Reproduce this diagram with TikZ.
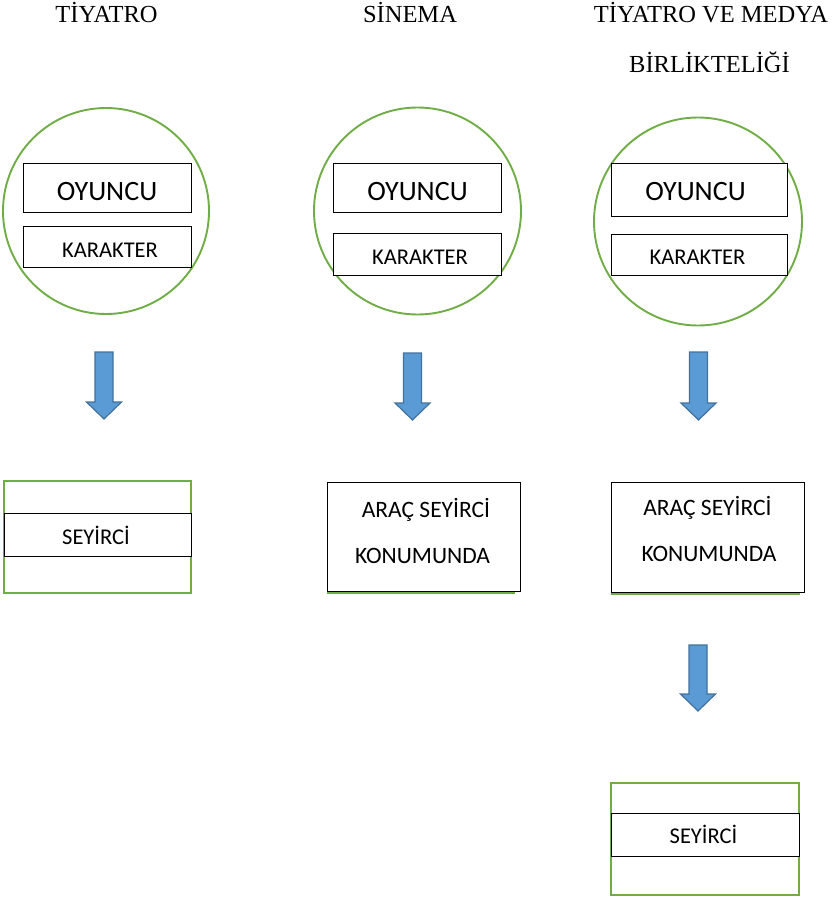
\documentclass[tikz,border=0pt]{standalone}
\usepackage{fontspec}
\setmainfont{Liberation Serif}
\newfontfamily\calfont{Carlito}
\definecolor{gr}{RGB}{112,173,71}
\definecolor{bfill}{RGB}{91,155,213}
\definecolor{bline}{RGB}{65,113,156}
\begin{document}
\begin{tikzpicture}[x=1pt,y=-1pt,
  title/.style={anchor=base,font=\fontsize{24.5}{29}\selectfont,inner sep=0pt},
  lab/.style={anchor=base,inner sep=0pt,font=\calfont\fontsize{22.5}{27}\selectfont},
  big/.style={anchor=base,inner sep=0pt,font=\calfont\fontsize{28}{33}\selectfont},
  mid/.style={anchor=base,inner sep=0pt,font=\calfont\fontsize{23.5}{28}\selectfont},
  ring/.style={draw=gr,line width=1.9pt,circle,inner sep=0pt},
  box/.style={draw=black,line width=1pt,rectangle,inner sep=0pt,fill=white},
  gbox/.style={draw=gr,line width=1.9pt,rectangle,inner sep=0pt},
  blk/.style={fill=bfill,draw=bline,line width=1.2pt,line join=miter}]
\useasboundingbox (0,0) rectangle (834,897);
% titles
\node[title] (t1) at (106.5,22) {TİYATRO};
\node[title] (t2) at (410,22) {SİNEMA};
\node[title] (t3) at (711,22) {TİYATRO VE MEDYA};
\node[title] (t3b) at (709.5,72) {BİRLİKTELİĞİ};
% circles
\node[ring,minimum size=206pt] (c1) at (106,211) {};
\node[ring,minimum size=207pt] (c2) at (417.5,211) {};
\node[ring,minimum size=208pt] (c3) at (698,221.5) {};
% inner boxes
\node[box,minimum width=168pt,minimum height=49pt] (o1) at (107.5,187.5) {};
\node[box,minimum width=168pt,minimum height=41pt] (k1) at (107.5,247) {};
\node[box,minimum width=168pt,minimum height=49pt] (o2) at (417,187.5) {};
\node[box,minimum width=168pt,minimum height=42pt] (k2) at (417,254) {};
\node[box,minimum width=176pt,minimum height=53pt] (o3) at (699,189.5) {};
\node[box,minimum width=176pt,minimum height=41pt] (k3) at (699,254.5) {};
\node[big] (o1t) at (107,200) {OYUNCU};
\node[lab] (k1t) at (110,257) {KARAKTER};
\node[big] (o2t) at (417.5,200) {OYUNCU};
\node[lab] (k2t) at (420,264) {KARAKTER};
\node[big] (o3t) at (695.5,200) {OYUNCU};
\node[lab] (k3t) at (697.5,264) {KARAKTER};
% block arrows
\foreach \cx/\top/\hy/\tip/\nm in {104/352/402/419/a1, 412.5/353/403/420/a2, 698.5/352/403/420/a3, 698/645/694/711/a4}{
  \draw[blk] (\cx-9,\top) -- (\cx+9,\top) -- (\cx+9,\hy) -- (\cx+17.5,\hy) -- (\cx,\tip) -- (\cx-17.5,\hy) -- (\cx-9,\hy) -- cycle;
  \coordinate (\nm) at (\cx,\tip);
}
% column 1 audience
\node[gbox,minimum width=187pt,minimum height=112pt] (s1) at (97.5,537) {};
\node[box,minimum width=187pt,minimum height=43pt] (s1i) at (97.5,534.5) {};
\node[lab] (s1t) at (96,544) {SEYİRCİ};
% column 2 vehicle
\draw[gr,line width=1.9pt] (327,593) -- (515,593);
\node[box,minimum width=193pt,minimum height=109pt] (v2) at (423.5,536.5) {};
\node[mid] (v2a) at (426,517) {ARAÇ SEYİRCİ};
\node[mid] (v2b) at (422.5,563) {KONUMUNDA};
% column 3 vehicle
\draw[gr,line width=1.9pt] (611,594) -- (800,594);
\node[box,minimum width=193pt,minimum height=110pt] (v3) at (707.5,537) {};
\node[mid] (v3a) at (707.5,515) {ARAÇ SEYİRCİ};
\node[mid] (v3b) at (709,561) {KONUMUNDA};
% column 3 audience
\node[gbox,minimum width=188pt,minimum height=112pt] (s3) at (705,839) {};
\node[box,minimum width=188pt,minimum height=43pt] (s3i) at (705,834.5) {};
\node[lab] (s3t) at (703.5,843) {SEYİRCİ};
\end{tikzpicture}
\end{document}
